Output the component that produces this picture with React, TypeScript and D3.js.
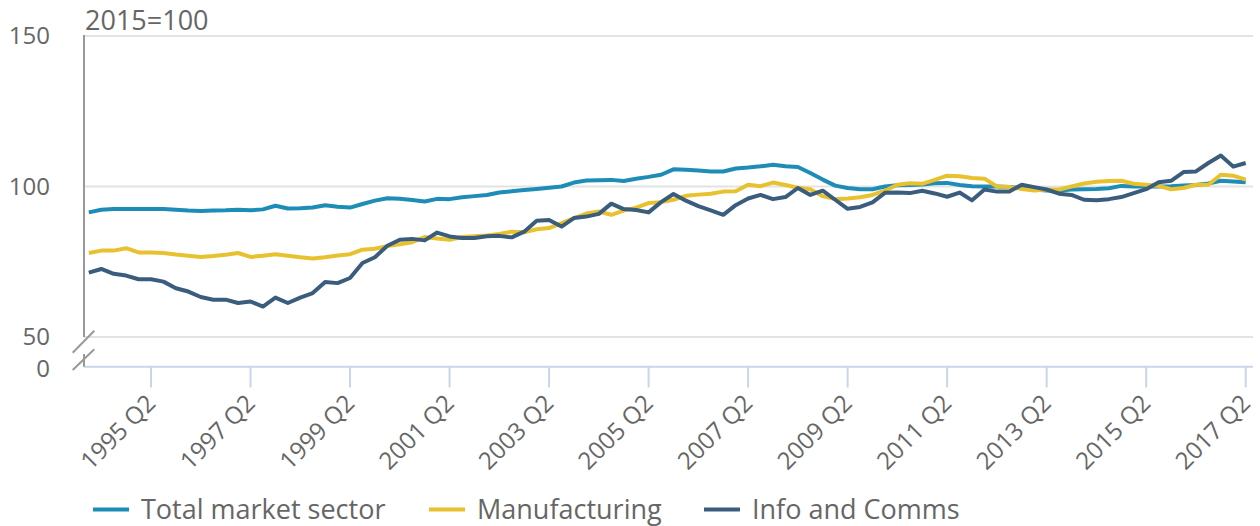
import React from "react";
import * as d3 from "d3";

const years = d3.range(1994, 2018);
const quarters: string[] = [];
years.forEach((y) => {
  [1, 2, 3, 4].forEach((q) => {
    if (y === 2017 && q > 2) return;
    quarters.push(`${y} Q${q}`);
  });
});

const tickLabels = [
  "1995 Q2", "1997 Q2", "1999 Q2", "2001 Q2", "2003 Q2", "2005 Q2",
  "2007 Q2", "2009 Q2", "2011 Q2", "2013 Q2", "2015 Q2", "2017 Q2",
];

const yTicks = [50, 100, 150];

const totalMarket = [
  91.4, 92.3, 92.5, 92.5, 92.5, 92.5, 92.5, 92.3, 92.0, 91.9,
  92.0, 92.1, 92.3, 92.1, 92.4, 93.6, 92.7, 92.8, 93.0, 93.8,
  93.3, 93.0, 94.2, 95.3, 96.1, 95.9, 95.5, 95.0, 95.9, 95.8,
  96.4, 96.8, 97.2, 98.0, 98.4, 98.8, 99.2, 99.6, 100.0, 101.3,
  102.0, 102.1, 102.2, 101.8, 102.6, 103.2, 103.9, 105.7, 105.6, 105.3,
  105.0, 105.0, 106.0, 106.3, 106.7, 107.2, 106.7, 106.5, 104.5, 102.3,
  100.3, 99.5, 99.1, 99.1, 100.0, 100.4, 100.5, 100.7, 101.1, 101.2,
  100.5, 100.1, 100.0, 100.0, 99.8, 99.5, 99.0, 98.7, 98.7, 99.0,
  99.1, 99.2, 99.4, 100.2, 100.0, 100.0, 100.0, 100.1, 100.3, 100.5,
  101.0, 101.9, 101.7, 101.4,
];

const manufacturing = [
  77.9, 78.7, 78.7, 79.5, 78.1, 78.1, 77.9, 77.4, 77.0, 76.6,
  76.9, 77.3, 77.9, 76.6, 77.0, 77.5, 77.0, 76.5, 76.1, 76.5,
  77.1, 77.5, 79.0, 79.3, 80.2, 80.8, 81.5, 83.2, 82.7, 82.3,
  83.2, 83.5, 83.7, 84.2, 85.0, 84.8, 85.8, 86.2, 87.8, 89.5,
  91.0, 91.7, 90.6, 92.0, 93.0, 94.5, 94.8, 95.6, 96.9, 97.3,
  97.6, 98.3, 98.4, 100.6, 100.1, 101.3, 100.5, 99.6, 99.1, 96.8,
  95.8, 96.0, 96.4, 97.2, 98.6, 100.6, 101.1, 100.9, 102.2, 103.6,
  103.4, 102.8, 102.6, 100.0, 99.8, 99.2, 98.7, 99.0, 99.0, 100.0,
  101.0, 101.6, 101.8, 101.9, 100.9, 100.6, 100.2, 99.1, 99.5, 100.6,
  100.6, 103.9, 103.6, 102.3,
];

const infoComms = [
  71.4, 72.6, 71.0, 70.4, 69.2, 69.2, 68.4, 66.2, 65.1, 63.3,
  62.4, 62.4, 61.3, 61.8, 60.1, 63.1, 61.3, 63.1, 64.6, 68.3,
  67.9, 69.6, 74.6, 76.5, 80.3, 82.3, 82.6, 82.1, 84.7, 83.4,
  82.9, 82.9, 83.5, 83.6, 83.1, 85.0, 88.6, 88.9, 86.7, 89.5,
  90.0, 90.9, 94.3, 92.5, 92.2, 91.4, 94.8, 97.5, 95.3, 93.5,
  92.1, 90.6, 93.8, 96.0, 97.2, 95.8, 96.5, 99.5, 97.2, 98.6,
  95.6, 92.6, 93.2, 94.7, 97.9, 98.0, 97.8, 98.6, 97.7, 96.6,
  98.0, 95.4, 99.0, 98.3, 98.3, 100.6, 99.8, 99.0, 97.6, 97.2,
  95.6, 95.4, 95.8, 96.5, 97.8, 99.1, 101.4, 101.9, 104.8, 105.0,
  107.8, 110.3, 106.6, 107.8,
];

const seriesNames = ["Total market sector", "Manufacturing", "Info and Comms"];
const seriesColors = ["#1d8cb6", "#e8c12f", "#3a5d7e"];
const seriesData = [totalMarket, manufacturing, infoComms];

const W = 1260;
const H = 526;
const FONT = "'Open Sans', 'Noto Sans', sans-serif";
const TEXT = "#666666";

export default function App() {
  const left = 84;
  const right = 1253;
  const x = d3.scalePoint<string>().domain(quarters).range([88.8, 1245.7]);
  const y = d3.scaleLinear().domain([50, 150]).range([337, 36]);
  const zeroY = 366.7;

  const line = d3
    .line<number>()
    .x((_, i) => x(quarters[i]) as number)
    .y((d) => y(d));

  const legendX = [93, 429, 704];

  return (
    <svg
      width={W}
      height={H}
      style={{ position: "absolute", left: 0, top: 0, display: "block" }}
      fontFamily={FONT}
    >
      <rect width={W} height={H} fill="#ffffff" />
      {yTicks.map((t) => (
        <line
          key={t}
          x1={left}
          x2={right}
          y1={y(t)}
          y2={y(t)}
          stroke="#e3e3e3"
          strokeWidth={2}
        />
      ))}
      <line x1={left} x2={right} y1={zeroY} y2={zeroY} stroke="#c9d5ea" strokeWidth={2} />
      {tickLabels.map((t) => {
        const tx = x(t) as number;
        return (
          <g key={t}>
            <line x1={tx} x2={tx} y1={zeroY} y2={387.5} stroke="#c9d5ea" strokeWidth={2} />
            <text
              transform={`translate(${tx - 6},${393}) rotate(-45)`}
              textAnchor="end"
              fontSize={24}
              fill={TEXT}
              dy="0.7em"
            >
              {t}
            </text>
          </g>
        );
      })}
      <line x1={left} x2={left} y1={35} y2={337} stroke="#999999" strokeWidth={2} />
      <line x1={left} x2={left} y1={354} y2={366.7} stroke="#999999" strokeWidth={2} />
      <line x1={72.7} y1={352.7} x2={94.3} y2={330.7} stroke="#999999" strokeWidth={2} />
      <line x1={72.7} y1={370} x2={94.3} y2={349.3} stroke="#999999" strokeWidth={2} />
      {yTicks.map((t) => (
        <text
          key={t}
          x={50}
          y={y(t)}
          dy="0.35em"
          textAnchor="end"
          fontSize={24}
          fill={TEXT}
        >
          {t}
        </text>
      ))}
      <text x={50} y={zeroY + 2} dy="0.35em" textAnchor="end" fontSize={24} fill={TEXT}>
        0
      </text>
      <text x={85} y={30} fontSize={27} fill={TEXT}>
        2015=100
      </text>
      {seriesData.map((s, i) => (
        <path
          key={seriesNames[i]}
          d={line(s) as string}
          fill="none"
          stroke={seriesColors[i]}
          strokeWidth={4}
          strokeLinejoin="round"
        />
      ))}
      {seriesNames.map((n, i) => (
        <g key={n}>
          <line
            x1={legendX[i]}
            x2={legendX[i] + 36}
            y1={509.5}
            y2={509.5}
            stroke={seriesColors[i]}
            strokeWidth={4}
          />
          <text x={legendX[i] + 48} y={519} fontSize={27} fill={TEXT}>
            {n}
          </text>
        </g>
      ))}
    </svg>
  );
}
